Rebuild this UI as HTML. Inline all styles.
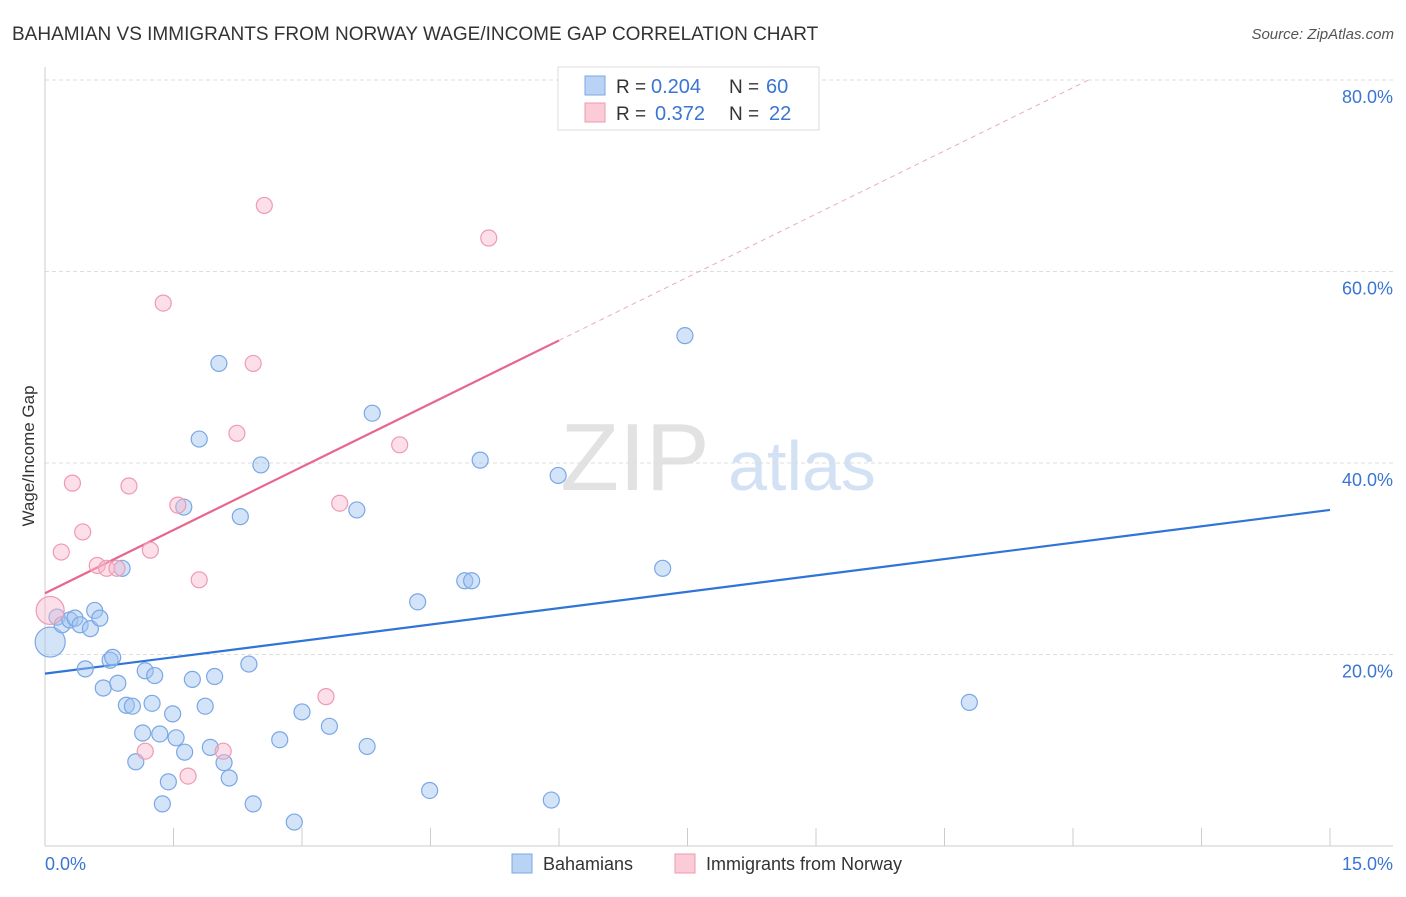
<!DOCTYPE html>
<html><head><meta charset="utf-8"><style>
body{margin:0;background:#fff;font-family:"Liberation Sans",sans-serif}
svg text{font-family:"Liberation Sans",sans-serif}
</style></head><body>
<svg width="1406" height="892" viewBox="0 0 1406 892">
<text x="12" y="40" font-size="19" fill="#333">BAHAMIAN VS IMMIGRANTS FROM NORWAY WAGE/INCOME GAP CORRELATION CHART</text>
<text x="1394" y="39" font-size="15" fill="#555" font-style="italic" text-anchor="end">Source: ZipAtlas.com</text>
<g>
<text x="635" y="490" font-size="96" fill="#e2e2e2" font-family="Liberation Serif,serif" text-anchor="middle">ZIP</text>
<text x="802" y="490" font-size="70" fill="#d3e1f4" text-anchor="middle">atlas</text>
</g>
<g id="grid"></g>
<g id="axes"></g>
<text x="34" y="456" font-size="17" fill="#333" text-anchor="middle" transform="rotate(-90 34 456)">Wage/Income Gap</text>
<g id="lines"></g>
<g id="pts"></g>
<g>
<rect x="558" y="67" width="261" height="63" fill="#fff" stroke="#ddd"/>
<rect x="585" y="76" width="20" height="19" fill="#b9d3f5" stroke="#7aa7e6"/>
<rect x="585" y="103" width="20" height="19" fill="#fbcbd8" stroke="#ee9ab2"/>
<text x="616" y="93" font-size="19" fill="#333">R =</text>
<text x="651" y="93" font-size="20" fill="#3a75d4">0.204</text>
<text x="729" y="93" font-size="19" fill="#333">N =</text>
<text x="766" y="93" font-size="20" fill="#3a75d4">60</text>
<text x="616" y="120" font-size="19" fill="#333">R =</text>
<text x="655" y="120" font-size="20" fill="#3a75d4">0.372</text>
<text x="729" y="120" font-size="19" fill="#333">N =</text>
<text x="769" y="120" font-size="20" fill="#3a75d4">22</text>
</g>
<g>
<rect x="512" y="854" width="20" height="19" fill="#b9d3f5" stroke="#7aa7e6"/>
<text x="543" y="870" font-size="18" fill="#333">Bahamians</text>
<rect x="675" y="854" width="20" height="19" fill="#fbcbd8" stroke="#ee9ab2"/>
<text x="706" y="870" font-size="18" fill="#333">Immigrants from Norway</text>
</g>
</svg>
<script>
const blueX=[0.06,0.14,0.20,0.29,0.35,0.41,0.53,0.58,0.64,0.47,0.68,0.76,0.79,0.85,0.90,0.95,1.02,1.06,1.14,1.17,1.25,1.28,1.34,1.37,1.44,1.49,1.53,1.62,1.63,1.72,1.80,1.87,1.93,1.98,2.03,2.09,2.15,2.28,2.38,2.43,2.52,2.74,2.91,3.00,3.32,3.64,3.76,3.82,4.35,4.49,4.90,4.98,5.08,5.91,5.99,7.21,7.47,10.79];
const blueY=[21.3,23.9,23.1,23.6,23.8,23.1,22.7,24.6,23.8,18.5,16.5,19.4,19.7,17.0,29.0,14.7,14.6,8.8,11.8,18.3,14.9,17.8,11.7,4.4,6.7,13.8,11.3,35.4,9.8,17.4,42.5,14.6,10.3,17.7,50.4,8.7,7.1,34.4,19.0,4.4,39.8,11.1,2.5,14.0,12.5,35.1,10.4,45.2,25.5,5.8,27.7,27.7,40.3,4.8,38.7,29.0,53.3,15.0];
const pinkX=[0.06,0.19,0.32,0.44,0.61,0.72,0.84,0.98,1.17,1.23,1.38,1.55,1.67,1.80,2.08,2.24,2.43,2.56,3.28,3.44,4.14,5.18];
const pinkY=[24.6,30.7,37.9,32.8,29.3,29.0,29.0,37.6,9.9,30.9,56.7,35.6,7.3,27.8,9.9,43.1,50.4,66.9,15.6,35.8,41.9,63.5];
const yTicks=[20,40,60,80];
const yTickLabels=["20.0%","40.0%","60.0%","80.0%"];
const blueTrend=[18.0,35.1];
const pinkTrend=[26.4,4.4];
const NS="http://www.w3.org/2000/svg";
const sx=v=>45+v/15*1285, sy=v=>846-v/20*191.5;
function mk(tag,attrs,parent){const e=document.createElementNS(NS,tag);for(const k in attrs)e.setAttribute(k,attrs[k]);document.getElementById(parent).appendChild(e);return e;}
yTicks.forEach((t,i)=>{
 const l=mk('line',{x1:45,x2:1393,y1:sy(t),y2:sy(t),stroke:'#ddd','stroke-dasharray':'4,3'},'grid');
 
 
 const tx=mk('text',{x:1393,y:sy(t)+23,'font-size':18,fill:'#3a75d4','text-anchor':'end'},'grid');
 tx.textContent=yTickLabels[i];
 
 
});
mk('line',{x1:45,x2:45,y1:67,y2:846,stroke:'#ccc'},'axes');
mk('line',{x1:45,x2:1393,y1:846,y2:846,stroke:'#ccc'},'axes');
for(let i=1;i<=10;i++){const x=sx(i*1.5);const t=mk('line',{x1:x,x2:x,y1:828,y2:846,stroke:'#ccc'},'axes');
 
 }
const x0=mk('text',{x:45,y:870,'font-size':18,fill:'#3a75d4'},'axes');x0.textContent='0.0%';


const x1=mk('text',{x:1393,y:870,'font-size':18,fill:'#3a75d4','text-anchor':'end'},'axes');x1.textContent='15.0%';


const bl=mk('line',{x1:sx(0),y1:sy(blueTrend[0]),x2:sx(15),y2:sy(blueTrend[1]),stroke:'#2f74d6','stroke-width':2.2},'lines');


const pend=(80-pinkTrend[0])/pinkTrend[1];
const pl=mk('line',{x1:sx(0),y1:sy(pinkTrend[0]),x2:sx(6),y2:sy(pinkTrend[0]+6*pinkTrend[1]),stroke:'#e8668e','stroke-width':2.2},'lines');


const pd=mk('line',{x1:sx(6),y1:sy(pinkTrend[0]+6*pinkTrend[1]),x2:sx(pend),y2:sy(80),stroke:'#eeaabd','stroke-width':1,'stroke-dasharray':'5,4'},'lines');


blueX.forEach((x,i)=>{const c=mk('circle',{cx:sx(x),cy:sy(blueY[i]),r:i==0?15:8,fill:'rgba(160,195,240,0.45)',stroke:'#7aa7e6','stroke-width':1.2},'pts');
 
 });
pinkX.forEach((x,i)=>{const c=mk('circle',{cx:sx(x),cy:sy(pinkY[i]),r:i==0?14:8,fill:'rgba(248,185,205,0.45)',stroke:'#ee9ab2','stroke-width':1.2},'pts');
 
 });
</script>
</body></html>
